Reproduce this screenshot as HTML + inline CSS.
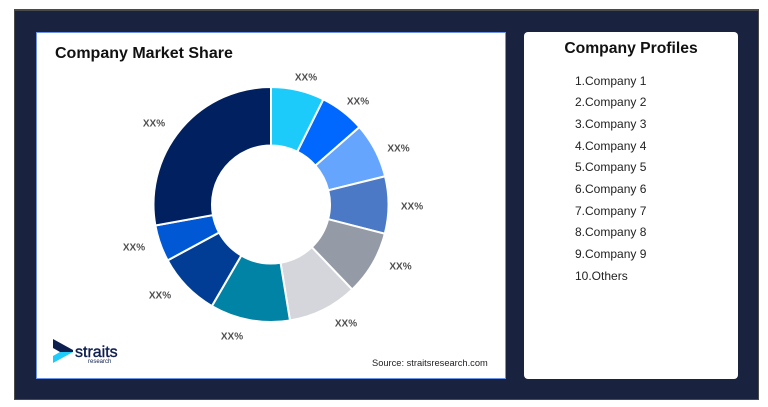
<!DOCTYPE html>
<html>
<head>
<meta charset="utf-8">
<style>
  html, body { margin:0; padding:0; background:#ffffff; }
  body { width:768px; height:407px; position:relative; overflow:hidden; font-family:"Liberation Sans", Arial, sans-serif; }
  .outer { position:absolute; left:14px; top:9px; width:743px; height:388px; background:#19223f; border:1px solid #4a4a4a; border-top:2px solid #4a4a4a; }
  .left { position:absolute; left:36px; top:32px; width:468px; height:345px; background:#fff; border:1.5px solid #6c93e6; }
  .right { position:absolute; left:524px; top:32px; width:214px; height:347px; background:#fff; border-radius:4px; }
  .title { position:absolute; left:55px; top:45px; font-size:16px; font-weight:bold; color:#111; white-space:nowrap; }
  .ptitle { position:absolute; left:524px; width:214px; top:40px; text-align:center; font-size:15.7px; font-weight:bold; color:#111; white-space:nowrap; }
  .item { position:absolute; left:575px; font-size:12px; color:#222; white-space:nowrap; }
  .src { position:absolute; left:372px; top:358px; font-size:9.3px; color:#222; white-space:nowrap; }
  svg { position:absolute; left:0; top:0; }
</style>
</head>
<body>
<div class="outer"></div>
<div class="left"></div>
<div class="right"></div>
<div class="title">Company Market Share</div>
<div class="ptitle">Company Profiles</div>
<div class="item" style="top:74px">1.Company 1</div>
<div class="item" style="top:95px">2.Company 2</div>
<div class="item" style="top:117px">3.Company 3</div>
<div class="item" style="top:139px">4.Company 4</div>
<div class="item" style="top:160px">5.Company 5</div>
<div class="item" style="top:182px">6.Company 6</div>
<div class="item" style="top:204px">7.Company 7</div>
<div class="item" style="top:225px">8.Company 8</div>
<div class="item" style="top:247px">9.Company 9</div>
<div class="item" style="top:269px">10.Others</div>
<div class="src">Source: straitsresearch.com</div>

<svg width="768" height="407" viewBox="0 0 768 407" xmlns="http://www.w3.org/2000/svg">
  <g stroke="#ffffff" stroke-width="2" stroke-linejoin="miter">
    <path fill="#1dcbfb" d="M271,87 A117.5,117.5 0 0 1 323.43,99.35 L297.33,151.70 A59,59 0 0 0 271,145.5 Z"/>
    <path fill="#0068fe" d="M323.43,99.35 A117.5,117.5 0 0 1 359.41,127.10 L315.39,165.64 A59,59 0 0 0 297.33,151.70 Z"/>
    <path fill="#66a5fd" d="M359.41,127.10 A117.5,117.5 0 0 1 385.06,176.28 L328.27,190.33 A59,59 0 0 0 315.39,165.64 Z"/>
    <path fill="#4b79c5" d="M385.06,176.28 A117.5,117.5 0 0 1 384.81,233.72 L328.15,219.17 A59,59 0 0 0 328.27,190.33 Z"/>
    <path fill="#959aa7" d="M384.81,233.72 A117.5,117.5 0 0 1 352.18,289.45 L311.76,247.16 A59,59 0 0 0 328.15,219.17 Z"/>
    <path fill="#d4d6db" d="M352.18,289.45 A117.5,117.5 0 0 1 289.99,320.46 L280.53,262.73 A59,59 0 0 0 311.76,247.16 Z"/>
    <path fill="#0183a6" d="M289.99,320.46 A117.5,117.5 0 0 1 211.90,306.06 L241.32,255.49 A59,59 0 0 0 280.53,262.73 Z"/>
    <path fill="#013d95" d="M211.90,306.06 A117.5,117.5 0 0 1 167.65,260.38 L219.10,232.56 A59,59 0 0 0 241.32,255.49 Z"/>
    <path fill="#0058d5" d="M167.65,260.38 A117.5,117.5 0 0 1 155.39,225.51 L212.95,215.05 A59,59 0 0 0 219.10,232.56 Z"/>
    <path fill="#012060" d="M155.39,225.51 A117.5,117.5 0 0 1 271,87 L271,145.5 A59,59 0 0 0 212.95,215.05 Z"/>
  </g>
  <g font-family="Liberation Sans, Arial, sans-serif" font-size="10" font-weight="bold" fill="#505050" text-anchor="middle">
    <text x="306" y="80.5">XX%</text>
    <text x="358" y="104.5">XX%</text>
    <text x="398.5" y="151.5">XX%</text>
    <text x="412" y="209.5">XX%</text>
    <text x="400.5" y="269.5">XX%</text>
    <text x="346" y="326.5">XX%</text>
    <text x="232" y="339.5">XX%</text>
    <text x="160" y="298.5">XX%</text>
    <text x="134" y="250.5">XX%</text>
    <text x="154" y="126.5">XX%</text>
  </g>
  <!-- logo -->
  <polygon fill="#0d1f4f" points="53,339 73,350 73,352 60,352 53,348"/>
  <polygon fill="#1ecbfb" points="60,352 73,352 53,363 53,356"/>
  <text x="75" y="357" font-family="Liberation Sans, Arial, sans-serif" font-size="16" fill="#0d1f4f" stroke="#0d1f4f" stroke-width="0.4">straits</text>
  <text x="88" y="363" font-family="Liberation Sans, Arial, sans-serif" font-size="6" fill="#0d1f4f">research</text>
</svg>
</body>
</html>
